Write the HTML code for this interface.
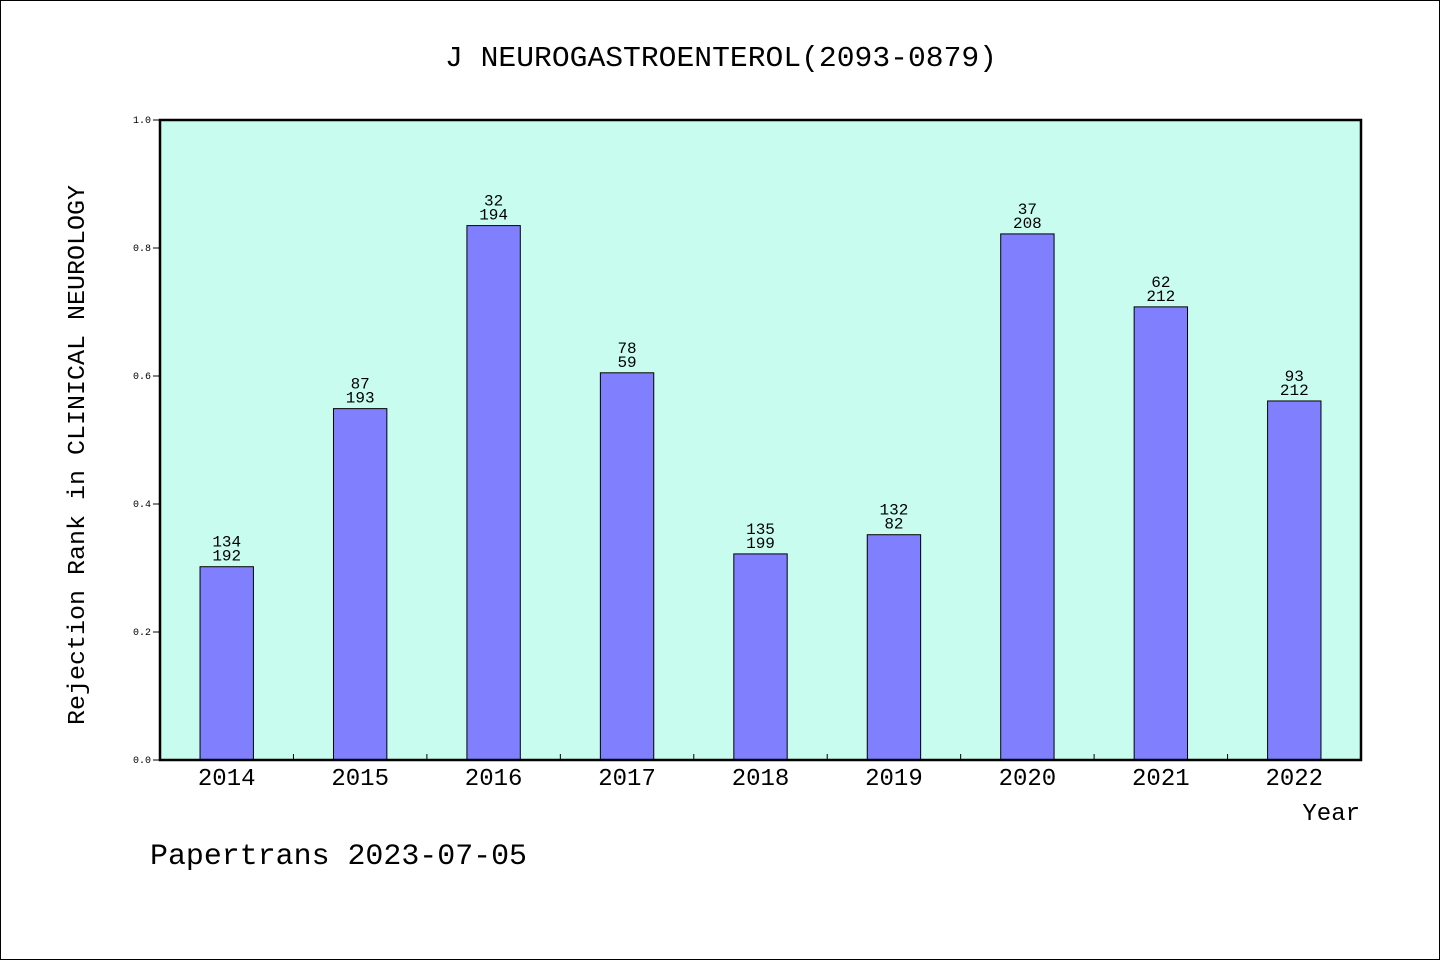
<!DOCTYPE html>
<html><head><meta charset="utf-8"><style>
html,body{margin:0;padding:0;background:#fff}
svg{display:block}
text{font-family:"Liberation Mono","DejaVu Sans Mono",monospace;fill:#000}
</style></head><body>
<svg id="chart" width="1440" height="960" viewBox="0 0 1440 960" xmlns="http://www.w3.org/2000/svg">
<rect x="0.5" y="0.5" width="1439" height="959" fill="#fff" stroke="#000" stroke-width="1"/>
<text x="721" y="66" font-size="29" text-anchor="middle" textLength="552" lengthAdjust="spacingAndGlyphs">J NEUROGASTROENTEROL(2093-0879)</text>
<rect x="160" y="120" width="1201" height="640" fill="#c8fcee"/>
<g id="bars"></g>
<g id="yaxis"></g>
<g id="xaxis"></g>
<rect x="160" y="120" width="1201" height="640" fill="none" stroke="#000" stroke-width="2.5"/>
<text transform="translate(84,455) rotate(-90)" font-size="24" text-anchor="middle" textLength="540" lengthAdjust="spacingAndGlyphs">Rejection Rank in CLINICAL NEUROLOGY</text>
<text x="1360" y="820" font-size="24" text-anchor="end">Year</text>
<text x="150" y="864" font-size="30" textLength="377" lengthAdjust="spacingAndGlyphs">Papertrans 2023-07-05</text>
</svg>
<script>
const categories = ["2014","2015","2016","2017","2018","2019","2020","2021","2022"];
const values = [0.302,0.549,0.835,0.605,0.322,0.352,0.822,0.708,0.561];
const ranks = ["134","87","32","78","135","132","37","62","93"];
const totals = ["192","193","194","59","199","82","208","212","212"];
const yTicks = [0,0.2,0.4,0.6,0.8,1.0];
const NS="http://www.w3.org/2000/svg";
const X0=160,X1=1361,Y0=760,Y1=120;
const band=(X1-X0)/categories.length;
const xPos=i=>X0+band*(i+0.5);
const yPos=v=>Y0-(Y0-Y1)*v;
function mk(tag,attrs,parent){const e=document.createElementNS(NS,tag);for(const k in attrs)e.setAttribute(k,attrs[k]);parent.appendChild(e);return e;}
const gb=document.getElementById('bars'),gy=document.getElementById('yaxis'),gx=document.getElementById('xaxis');
const bw=band*0.4;
categories.forEach((c,i)=>{
  const cx=xPos(i),top=yPos(values[i]);
  const r=mk('rect',{x:cx-bw/2,y:top,width:bw,height:Y0-top,fill:'#8080ff',stroke:'#000','stroke-width':1},gb);
  
  
  const t1=mk('text',{x:cx,y:top-20,'font-size':16,'text-anchor':'middle'},gb);
  t1.textContent=ranks[i];
  
  
  const t2=mk('text',{x:cx,y:top-6,'font-size':16,'text-anchor':'middle'},gb);
  t2.textContent=totals[i];
  
  
  const xl=mk('text',{x:cx,y:785,'font-size':24,'text-anchor':'middle'},gx);
  xl.textContent=c;
  
  
  if(i>0){const tk=mk('line',{x1:X0+band*i,x2:X0+band*i,y1:Y0,y2:Y0-6,stroke:'#000','stroke-width':1},gx);
  
  }
});
yTicks.forEach(v=>{
  const y=yPos(v);
  const l=mk('line',{x1:X0-7,x2:X0,y1:y,y2:y,stroke:'#000','stroke-width':1},gy);
  
  
  const t=mk('text',{x:X0-9,y:y+3,'font-size':10,'text-anchor':'end'},gy);
  t.textContent=v.toFixed(1);
  
  
});
</script>
</body></html>
